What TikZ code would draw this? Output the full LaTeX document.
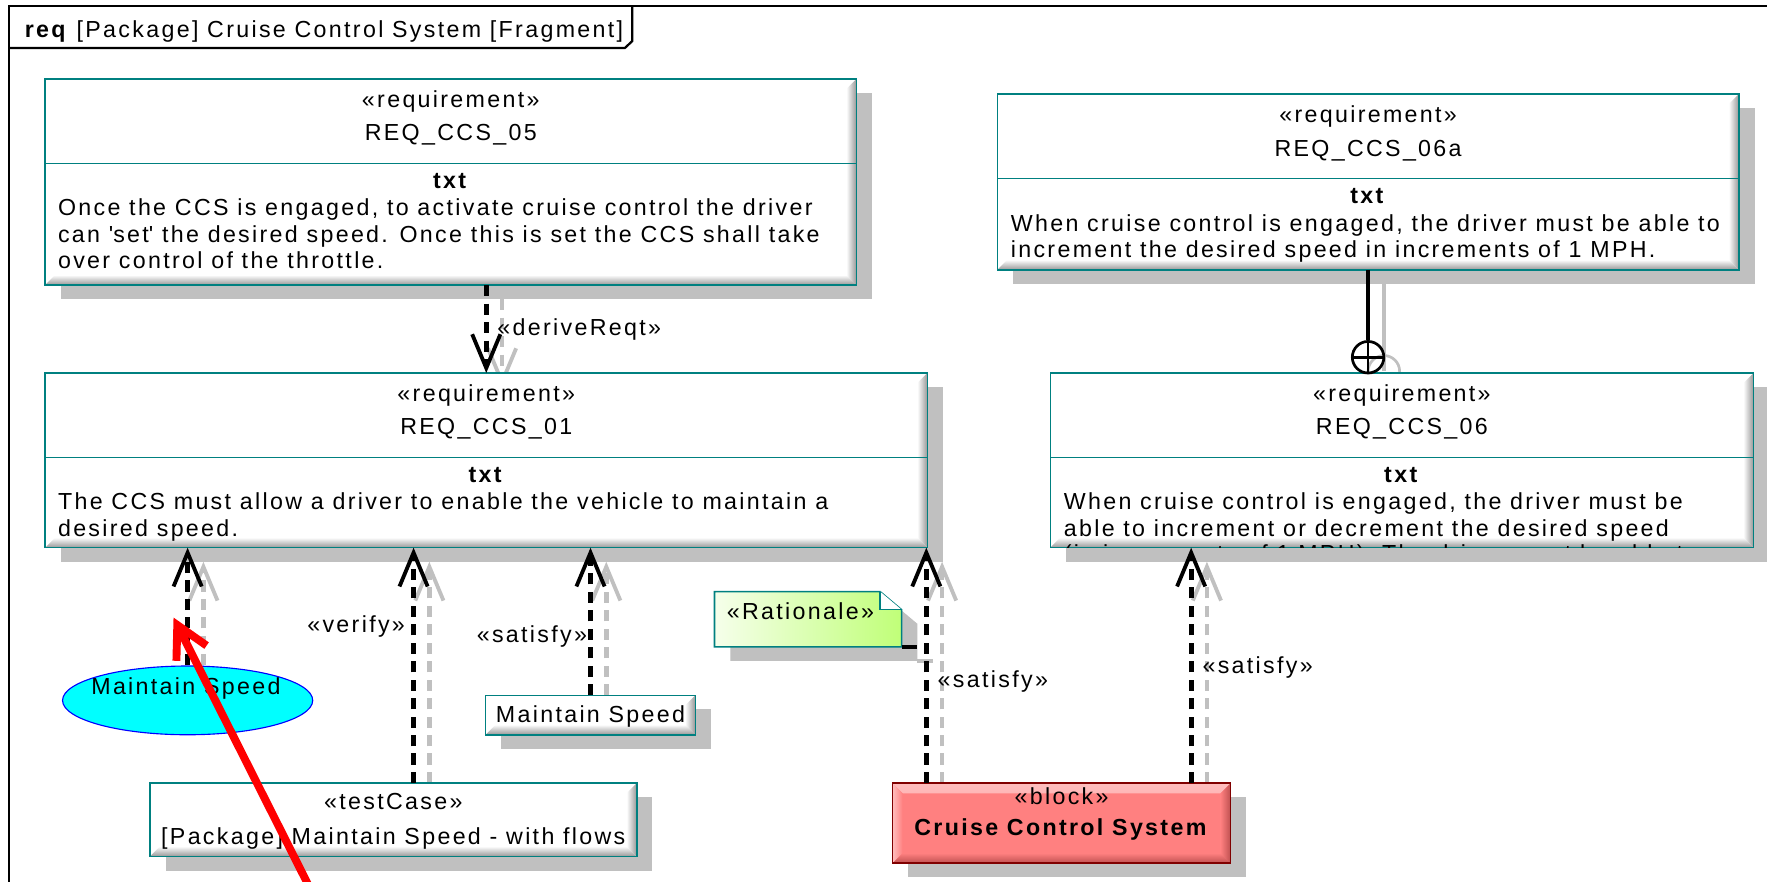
\documentclass[tikz,border=0pt]{standalone}
\usepackage{fontspec}
\setmainfont{Liberation Sans}[LetterSpace=10]
\newfontfamily\rawfont{Liberation Sans}[LetterSpace=10]
\usetikzlibrary{arrows.meta,calc,fit,shapes.geometric}
\definecolor{tealb}{RGB}{0,128,128}
\definecolor{shad}{RGB}{192,192,192}
\definecolor{cyanf}{RGB}{0,255,255}
\definecolor{blockred}{RGB}{255,128,128}
\definecolor{blocklight}{RGB}{255,190,190}
\definecolor{blockdark}{RGB}{190,80,80}
\definecolor{blockbd}{RGB}{128,0,0}
\definecolor{noteg}{RGB}{192,255,120}
\definecolor{bevdark}{RGB}{150,150,150}
\pgfdeclarelayer{bg}
\pgfsetlayers{bg,main}
\tikzset{
  fnt/.style={font=\fontsize{10.3}{12}\selectfont},
  lbl/.style={inner sep=0, outer sep=0, fnt},
  bevel/.style n args={3}{path picture={
    \path[top color=#2, bottom color=#1] (path picture bounding box.north west) -- ++(9,9) -- ([shift={(-9,9)}]path picture bounding box.north east) -- (path picture bounding box.north east) -- cycle;
    \path[left color=#2, right color=#1] (path picture bounding box.north west) -- ++(9,9) -- ([shift={(9,-9)}]path picture bounding box.south west) -- (path picture bounding box.south west) -- cycle;
    \path[top color=#1, bottom color=#3] (path picture bounding box.south west) -- ++(9,-9) -- ([shift={(-9,-9)}]path picture bounding box.south east) -- (path picture bounding box.south east) -- cycle;
    \path[left color=#1, right color=#3] (path picture bounding box.south east) -- ++(-9,-9) -- ([shift={(-9,9)}]path picture bounding box.north east) -- (path picture bounding box.north east) -- cycle;
  }},
  box/.style={draw=tealb, line width=0.7pt, fill=white, inner sep=0, outer sep=0, bevel={white}{white}{bevdark}},
  blockbox/.style={draw=blockbd, line width=0.7pt, fill=blockred, inner sep=0, outer sep=0, bevel={blockred}{blocklight}{blockdark}},
  divider/.style={draw=tealb, line width=0.7pt},
  dep/.style={line width=2.1pt, dash pattern=on 5pt off 3.2pt, -{Straight Barb[length=15pt,width=12.5pt,line width=1.7pt]}},
  depshadow/.style={dep, draw=shad},
  redarrow/.style={draw=red, line width=3.5pt, -{Straight Barb[length=14pt,width=15pt,line width=3.5pt]}},
}
\begin{document}
\begin{tikzpicture}[x=0.5pt,y=-0.5pt]
\useasboundingbox (0,0) rectangle (1568,782);
\clip (0,0) rectangle (1568,782);

% frame
\draw[line width=1pt] (8,800) -- (8,5) -- (1580,5);
\draw[line width=1pt] (8,42.5) -- (554.6,42.5) -- (561,36.5) -- (561,5);
\node[lbl, anchor=base west] (title) at (22,33) {\textbf{req} [Package] Cruise Control System [Fragment]};

% boxes
\node[box, fit={(40,70) (760,253)}] (r05) {};
\node[box, fit={(885,83.5) (1543,239.5)}] (r06a) {};
\node[box, fit={(40,331) (823,486)}] (r01) {};
\node[box, fit={(932,331) (1556,486)}] (r06) {};
\node[box, fit={(431,617) (617,652)}] (ms) {};
\node[box, fit={(133,695) (565,760)}] (tc) {};
\node[blockbox, fit={(792,695) (1092,766)}] (blk) {};
\node[ellipse, draw=blue, fill=cyanf, line width=0.5pt, minimum width=111pt, minimum height=30.5pt, inner sep=0] (ell) at (166.5,621.5) {};
\node[inner sep=0, outer sep=0, minimum width=83pt, minimum height=24.5pt, anchor=north west] (note) at (634,525) {};

% connector end points
\coordinate (vfy) at ([xshift=117pt]tc.north west);
\coordinate (satL) at ([xshift=15pt]blk.north west);
\coordinate (satR) at ([xshift=-17.5pt]blk.north east);

% background and shadows
\begin{pgfonlayer}{bg}
  \fill[white] (0,0) rectangle (1568,782);
  \foreach \b in {r05,r06a,r01,r06,ms,tc,blk}
    \fill[shad] ([shift={(14,12.5)}]\b.south west) rectangle ([shift={(14,12.5)}]\b.north east);
  \fill[shad] ([shift={(14,12.5)}]note.north west) -- ([shift={(-5,12.5)}]note.north east) -- ([shift={(14,28.5)}]note.north east) -- ([shift={(14,12.5)}]note.south east) -- ([shift={(14,12.5)}]note.south west) -- cycle;
  \draw[shad, line width=1.5pt] ([shift={(14,12.5)}]note.south east) -- ++(14,0);
  % connector shadows
  \draw[depshadow] ([shift={(14,12.5)}]r01.north |- r05.south) -- ([shift={(14,12.5)}]r01.north);
  \draw[shad, line width=1.5pt] ([shift={(14,12.5)}]r06a.south) -- ([shift={(14,-1.5)}]r06a.south |- r06.north);
  \draw[shad, line width=1.2pt] ([shift={(14,-1.5)}]r06a.south |- r06.north) circle[radius=14];
  \draw[depshadow] ([xshift=7pt]ell.north) -- ([shift={(14,12.5)}]ell.north |- r01.south);
  \draw[depshadow] ([xshift=7pt]vfy) -- ([shift={(14,12.5)}]vfy |- r01.south);
  \draw[depshadow] ([xshift=7pt]ms.north) -- ([shift={(14,12.5)}]ms.north |- r01.south);
  \draw[depshadow] ([xshift=7pt]satL) -- ([shift={(14,12.5)}]satL |- r01.south);
  \draw[depshadow] ([xshift=7pt]satR) -- ([shift={(14,12.5)}]satR |- r06.south);
\end{pgfonlayer}

% dividers
\foreach \b/\d in {r05/75, r06a/75, r01/75, r06/75}
  \draw[divider] ([yshift=-\d*0.5pt]\b.north west) -- ([yshift=-\d*0.5pt]\b.north east);

% REQ_CCS_05
\node[lbl, anchor=base] (r05s) at (400,95.5) {«requirement»};
\node[lbl, anchor=base] (r05n) at (400,125) {REQ\_CCS\_05};
\node[lbl, anchor=base] (r05t) at (400,167.5) {\textbf{txt}};
\node[lbl, anchor=base west] (r05a) at (51.5,191.5) {Once the CCS is engaged, to activate cruise control the driver};
\node[lbl, anchor=base west] (r05b) at (51.5,215) {can {\rawfont'}set{\rawfont'} the desired speed. Once this is set the CCS shall take};
\node[lbl, anchor=base west] (r05c) at (51.5,238.5) {over control of the throttle.};

% REQ_CCS_06a
\node[lbl, anchor=base] (r6as) at (1214,109) {«requirement»};
\node[lbl, anchor=base] (r6an) at (1214,138.5) {REQ\_CCS\_06a};
\node[lbl, anchor=base] (r6at) at (1214,181) {\textbf{txt}};
\node[lbl, anchor=base west] (r6aa) at (897,205) {When cruise control is engaged, the driver must be able to};
\node[lbl, anchor=base west] (r6ab) at (897,228.5) {increment the desired speed in increments of 1 MPH.};

% REQ_CCS_01
\node[lbl, anchor=base] (r01s) at (431.5,356.5) {«requirement»};
\node[lbl, anchor=base] (r01n) at (431.5,386) {REQ\_CCS\_01};
\node[lbl, anchor=base] (r01t) at (431.5,428.5) {\textbf{txt}};
\node[lbl, anchor=base west] (r01a) at (51.5,452.5) {The CCS must allow a driver to enable the vehicle to maintain a};
\node[lbl, anchor=base west] (r01b) at (51.5,476) {desired speed.};

% REQ_CCS_06
\node[lbl, anchor=base] (r06s) at (1244,356.5) {«requirement»};
\node[lbl, anchor=base] (r06n) at (1244,386) {REQ\_CCS\_06};
\node[lbl, anchor=base] (r06t) at (1244,428.5) {\textbf{txt}};
\node[lbl, anchor=base west] (r06a1) at (944,452.5) {When cruise control is engaged, the driver must be};
\node[lbl, anchor=base west] (r06b1) at (944,476) {able to increment or decrement the desired speed};
\begin{scope}
  \clip (r06.north west) rectangle (r06.south east);
  \node[lbl, anchor=base west] (r06c1) at (944,498) {(in increments of 1 MPH). The driver must be able to};
\end{scope}

% small elements
\node[lbl, anchor=base] (msl) at (524,641.5) {Maintain Speed};
\node[lbl, anchor=base] (tcs) at (349,718) {«testCase»};
\node[lbl, anchor=base] (tcn) at (349,749) {[Package] Maintain Speed - with flows};
\node[lbl, anchor=base] (blks) at (942,714) {«block»};
\node[lbl, anchor=base] (blkn) at (942,741) {\textbf{Cruise Control System}};
\node[lbl, anchor=base] (elll) at (165,616) {Maintain Speed};

% note
\draw[tealb, line width=0.7pt, left color=noteg!15!white, right color=noteg] (note.north west) -- ([xshift=-9.5pt]note.north east) -- ([yshift=-8pt]note.north east) -- (note.south east) -- (note.south west) -- cycle;
\draw[tealb, line width=0.7pt, fill=white] ([xshift=-9.5pt]note.north east) -- ([xshift=-9.5pt,yshift=-8pt]note.north east) -- ([yshift=-8pt]note.north east);
\node[lbl, anchor=base west] (notel) at (645,550) {«Rationale»};
\draw[line width=1.5pt] (note.south east) -- ([xshift=-4pt]note.south east -| satL);

% connectors
\draw[dep] (r01.north |- r05.south) -- (r01.north);
\node[circle, draw, line width=1.2pt, minimum size=14pt, inner sep=0] (cross) at ([yshift=7pt]r06a.south |- r06.north) {};
\draw[line width=1.5pt] (r06a.south) -- (cross.north);
\draw[line width=1.2pt] (cross.north) -- (cross.south) (cross.west) -- (cross.east);
\draw[dep] (ell.north) -- (ell.north |- r01.south);
\draw[dep] (vfy) -- (vfy |- r01.south);
\draw[dep] (ms.north) -- (ms.north |- r01.south);
\draw[dep] (satL) -- (satL |- r01.south);
\draw[dep] (satR) -- (satR |- r06.south);

% labels
\node[lbl, anchor=base] (ldr) at (514,298) {«deriveReqt»};
\node[lbl, anchor=base] (lvf) at (316,561) {«verify»};
\node[lbl, anchor=base] (ls1) at (472,570) {«satisfy»};
\node[lbl, anchor=base] (ls2) at (881,610.5) {«satisfy»};
\node[lbl, anchor=base] (ls3) at (1116,597.5) {«satisfy»};

% red annotation arrow
\coordinate (redstart) at (281,800);
\coordinate (redtip) at (154,548);
\draw[redarrow] (redstart) -- (redtip);
\end{tikzpicture}
\end{document}
